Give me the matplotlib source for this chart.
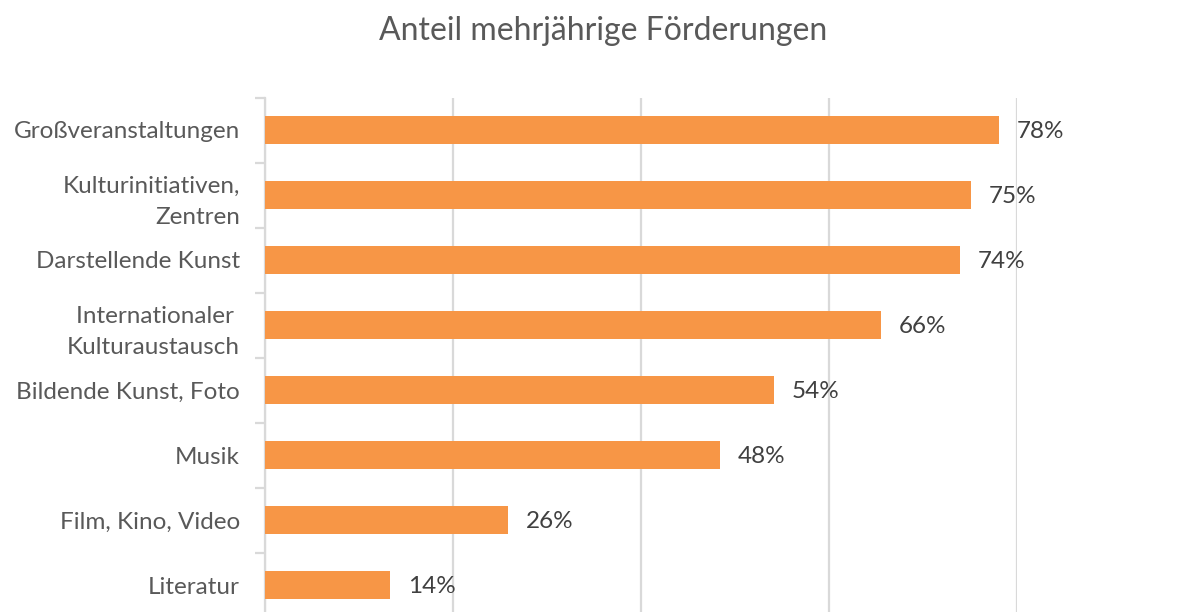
import matplotlib.pyplot as plt

categories = ["Großveranstaltungen", "Kulturinitiativen,\nZentren", "Darstellende Kunst",
              "Internationaler \nKulturaustausch", "Bildende Kunst, Foto", "Musik",
              "Film, Kino, Video", "Literatur"]
values = [78.1, 75.1, 73.9, 65.5, 54.1, 48.4, 25.9, 13.3]
value_labels = ["78%", "75%", "74%", "66%", "54%", "48%", "26%", "14%"]

plt.rcParams['font.family'] = ['Lato', 'DejaVu Sans']

fig = plt.figure(figsize=(11.95, 6.12), dpi=100)
# axes runs a little below the bottom edge of the figure, as in the original
ax = fig.add_axes([265/1195, -5.5/612, 752/1195, 520/612])

n = len(categories)
ypos = list(range(n))
ax.barh(ypos, values, height=0.43, color='#F79646', zorder=3)
ax.set_ylim(n - 0.5, -0.5)
ax.set_xlim(0, 80)

for y, v, lab in zip(ypos, values, value_labels):
    ax.text(v + 1.9, y + 0.02, lab, va='center', ha='left', fontsize=17.5,
            color='#404040', clip_on=False)

ax.set_xticks([0, 20, 40, 60, 80])
ax.xaxis.grid(True, color='#D9D9D9', linewidth=1.6, zorder=0)
ax.tick_params(axis='x', length=0, labelbottom=False)

ax.set_yticks(ypos)
ax.set_yticklabels(categories, fontsize=17.5, color='#595959', ha='right',
                   linespacing=1.6)
ax.set_yticks([i + 0.5 for i in range(-1, n)], minor=True)
ax.tick_params(axis='y', which='major', length=0, pad=18)
ax.tick_params(axis='y', which='minor', length=7, width=1.6, color='#D9D9D9')

for s in ['top', 'right', 'bottom']:
    ax.spines[s].set_visible(False)
ax.spines['left'].set_color('#D9D9D9')
ax.spines['left'].set_linewidth(1.6)

fig.text(603/1195, 1 - 31/612, "Anteil mehrjährige Förderungen", ha='center', va='center',
         fontsize=23, color='#595959')

fig.savefig('out.png', dpi=100)
